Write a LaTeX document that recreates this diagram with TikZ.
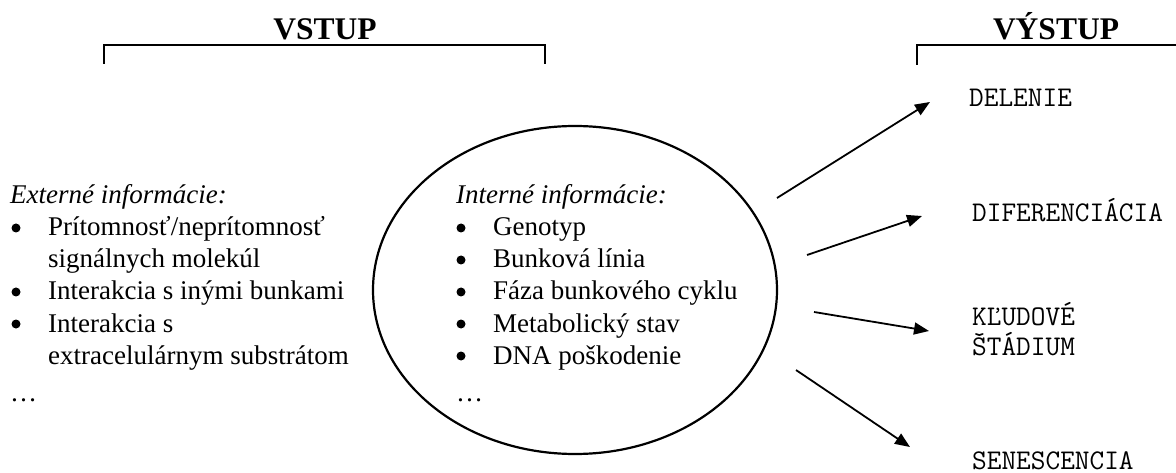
\documentclass[tikz,border=0pt]{standalone}
\usepackage{fontspec}
\setmainfont{Liberation Serif}
\usetikzlibrary{shapes.geometric,arrows.meta}
\tikzset{
  txt/.style={anchor=base west,inner sep=0pt,font=\fontsize{27}{32}\selectfont},
  bul/.style={circle,fill=black,inner sep=0pt,minimum size=9pt},
  ttl/.style={anchor=base,inner sep=0pt,font=\fontsize{31.5}{36}\selectfont\bfseries},
  outtxt/.style={anchor=base west,inner sep=0pt,font=\fontsize{28.5}{29}\selectfont\ttfamily},
  brk/.style={line width=2pt},
  arr/.style={line width=1.8pt,-{Triangle[length=15pt,width=12pt]}},
}
\begin{document}
\begin{tikzpicture}[x=1pt,y=-1pt]
\useasboundingbox (0,0) rectangle (1176,473);
% titles and brackets
\node[ttl] (vstup) at (325,40) {VSTUP};
\node[ttl] (vystup) at (1056,40) {VÝSTUP};
\draw[brk] (104,64) -- (104,45) -- (545,45) -- (545,64);
\draw[brk] (917,65) -- (917,45) -- (1176,45);
% ellipse
\node[draw,ellipse,line width=2.2pt,minimum width=404pt,minimum height=328pt,inner sep=0pt] (cell) at (575,290) {};
% external info
\node[txt] (ext) at (10,204) {\itshape Externé informácie:};
\node[bul] (eb1) at (16,228) {};
\node[txt] (e1) at (48,236) {Prítomnosť/neprítomnosť};
\node[txt] (e1b) at (48,268) {signálnych molekúl};
\node[bul] (eb2) at (16,292) {};
\node[txt] (e2) at (48,300) {Interakcia s inými bunkami};
\node[bul] (eb3) at (16,324) {};
\node[txt] (e3) at (48,332) {Interakcia s};
\node[txt] (e3b) at (48,364) {extracelulárnym substrátom};
\node[txt] (edots) at (10,401) {…};
% internal info
\node[txt] (int) at (456,204) {\itshape Interné informácie:};
\node[bul] (ib1) at (461,228) {};
\node[txt] (i1) at (493,236) {Genotyp};
\node[bul] (ib2) at (461,260) {};
\node[txt] (i2) at (493,268) {Bunková línia};
\node[bul] (ib3) at (461,292) {};
\node[txt] (i3) at (493,300) {Fáza bunkového cyklu};
\node[bul] (ib4) at (461,324) {};
\node[txt] (i4) at (493,332) {Metabolický stav};
\node[bul] (ib5) at (461,356) {};
\node[txt] (i5) at (493,364) {DNA poškodenie};
\node[txt] (idots) at (456,401) {…};
% outputs
\node[outtxt] (del) at (969,107) {DELENIE};
\node[outtxt] (dif) at (972,222) {DIFERENCIÁCIA};
\node[outtxt] (kl) at (972,326) {KĽUDOVÉ};
\node[outtxt] (kl2) at (972,355) {ŠTÁDIUM};
\node[outtxt] (sen) at (972,469) {SENESCENCIA};
% arrows
\coordinate (s1) at (777,198); \coordinate (t1) at (930,102);
\coordinate (s2) at (807,255); \coordinate (t2) at (922,216);
\coordinate (s3) at (814,312); \coordinate (t3) at (929,331);
\coordinate (s4) at (796,370); \coordinate (t4) at (910,447);
\draw[arr] (s1) -- (t1);
\draw[arr] (s2) -- (t2);
\draw[arr] (s3) -- (t3);
\draw[arr] (s4) -- (t4);
\end{tikzpicture}
\end{document}
